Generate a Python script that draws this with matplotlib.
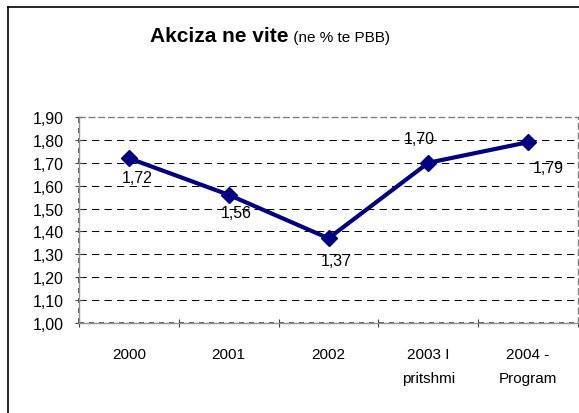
#!/usr/bin/env python3
"""Akciza ne vite (ne % te PBB) — line chart with data labels, Excel style."""

import matplotlib
matplotlib.use("Agg")
import matplotlib.pyplot as plt
from matplotlib.lines import Line2D

# data
categories = ["2000", "2001", "2002", "2003 I\npritshmi", "2004 -\nProgram"]
values = [1.72, 1.56, 1.37, 1.70, 1.79]
value_labels = ["1,72", "1,56", "1,37", "1,70", "1,79"]
y_ticks = [1.00, 1.10, 1.20, 1.30, 1.40, 1.50, 1.60, 1.70, 1.80, 1.90]

# label offsets in pixels (dx, dy), like Excel's label placement
label_offsets = [(8, -19), (8, -18), (8, -22), (-9, 24), (20, -25)]

NAVY = "#000080"
FONT = ["Liberation Sans", "DejaVu Sans"]

plt.rcParams["font.family"] = FONT

fig = plt.figure(figsize=(5.79, 4.14), dpi=100)
fig.patch.set_facecolor("white")

W, H = 579, 414
ax = fig.add_axes([79 / W, (H - 324) / H, 499 / W, (324 - 118) / H])

x = list(range(len(categories)))
ax.set_xlim(-0.5, len(categories) - 0.5)
ax.set_ylim(1.0, 1.9)

# dashed horizontal gridlines
for yv in y_ticks[1:-1]:
    ax.axhline(yv, color="black", lw=0.75, dashes=(7, 5), zorder=1)

ax.plot(x, values, color=NAVY, lw=3, marker="D", markersize=8,
        markerfacecolor=NAVY, markeredgecolor=NAVY, zorder=3, clip_on=False)

for xi, yi, txt, (dx, dy) in zip(x, values, value_labels, label_offsets):
    ax.annotate(txt, (xi, yi), xytext=(dx, dy), textcoords="offset pixels",
                ha="center", va="center", fontsize=11.5, color="black")

# axes frame: gray dashed top/right, darker left/bottom
for side in ("top", "right"):
    ax.spines[side].set_color("#808080")
    ax.spines[side].set_linestyle((0, (4, 3)))
    ax.spines[side].set_linewidth(1)
for side in ("left", "bottom"):
    ax.spines[side].set_color("#909090")
    ax.spines[side].set_linewidth(1)
ax.axhline(1.0, color="#404040", lw=1.2, dashes=(3, 3), zorder=2, clip_on=False)
ax.axvline(-0.5, color="#404040", lw=1.2, dashes=(3, 3), zorder=2, clip_on=False)

ax.set_yticks(y_ticks)
ax.set_yticklabels([f"{v:.2f}".replace(".", ",") for v in y_ticks], fontsize=11.5)
ax.tick_params(axis="y", length=6, width=0.8, color="#404040", direction="inout", pad=8)

# category boundaries get tick marks, labels sit in the middle
ax.set_xticks([i - 0.5 for i in range(len(categories) + 1)])
ax.set_xticklabels([])
ax.tick_params(axis="x", length=6, width=0.8, color="#404040", direction="inout")
for xi, cat in zip(x, categories):
    ax.text(xi, -0.115, cat, transform=ax.get_xaxis_transform(), ha="center", va="top",
            fontsize=11, linespacing=1.9)

# title: bold part + normal part
t1 = fig.text(0.0, 1 - 37 / H, "Akciza ne vite", fontsize=15, fontweight="bold",
              ha="left", va="center")
t2 = fig.text(0.0, 1 - 38 / H, " (ne % te PBB)", fontsize=11, ha="left", va="center")
fig.canvas.draw()
r = fig.canvas.get_renderer()
w1 = t1.get_window_extent(r).width
w2 = t2.get_window_extent(r).width
start = (270 - (w1 + w2) / 2) / W
t1.set_x(start)
t2.set_x(start + w1 / W)

# outer chart frame (only top and left visible in the crop)
fig.add_artist(Line2D([8 / W, 1.0], [1 - 8 / H, 1 - 8 / H], color="black", lw=1.2,
                      transform=fig.transFigure))
fig.add_artist(Line2D([8 / W, 8 / W], [0.0, 1 - 8 / H], color="black", lw=1.2,
                      transform=fig.transFigure))

fig.savefig("out.png", dpi=100, facecolor="white")
